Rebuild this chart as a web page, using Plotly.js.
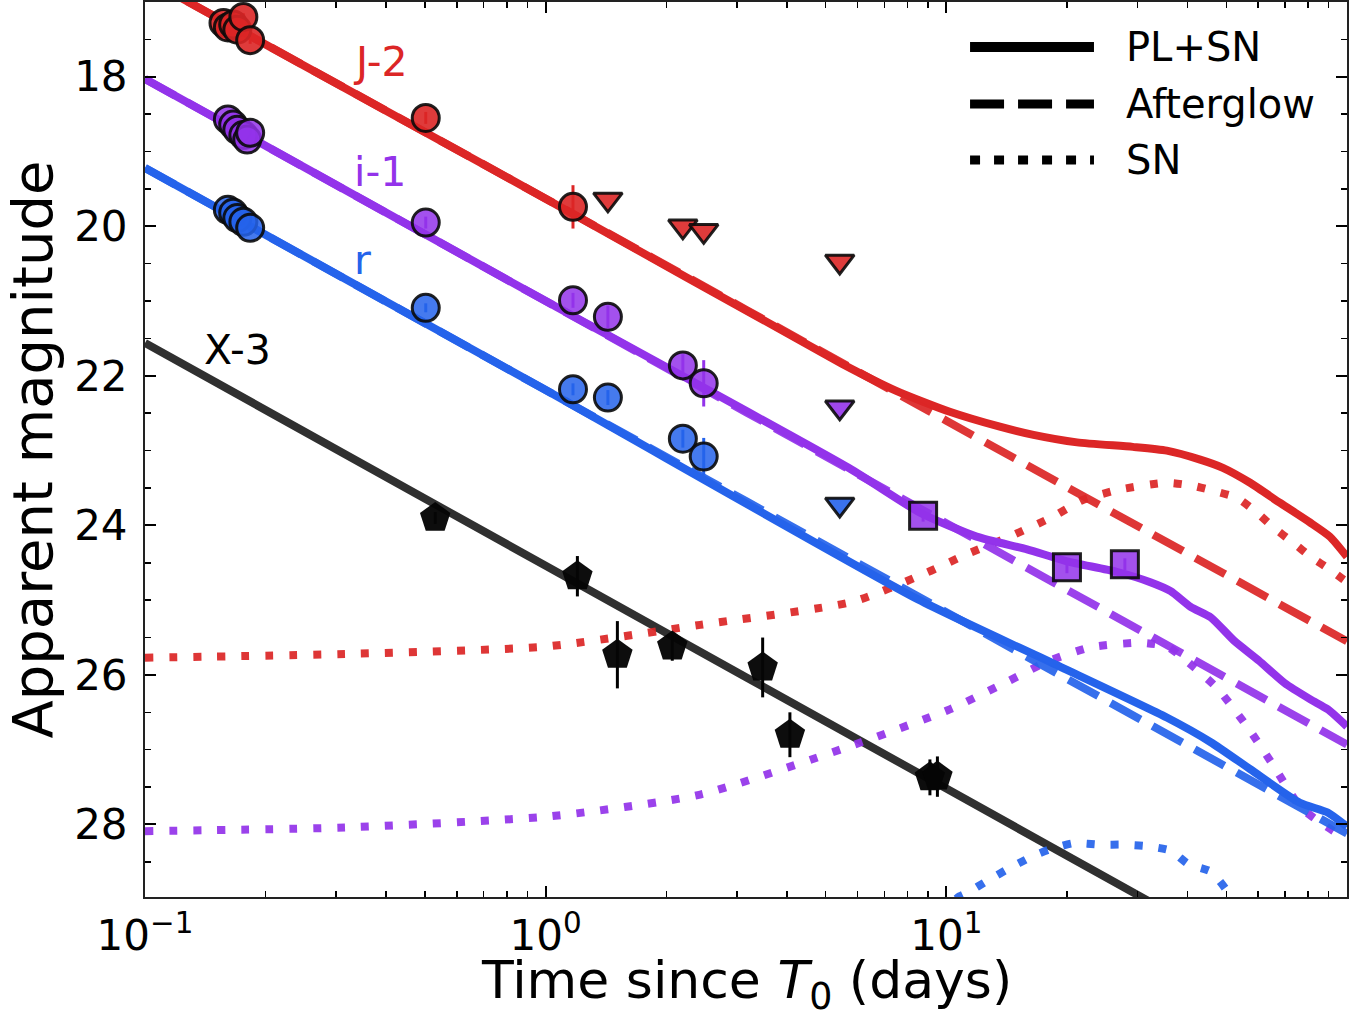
<!DOCTYPE html>
<html>
<head>
<meta charset="utf-8">
<script src="https://cdn.plot.ly/plotly-3.0.1.min.js"></script>
<style>html,body{margin:0;padding:0;background:#fff;}#chart{width:1367px;height:1020px;}</style>
</head>
<body>
<div id="chart"></div>
<script>
// ---------- model curves ----------
const redSolidT = [0.1, 1, 5.5, 7.5, 10.2, 13.6, 16.5, 21.2, 29.2, 35.5, 43.0, 49.0, 57.3, 68.1, 80.8, 90.6, 100];
const redSolidM = [16.68, 19.63, 21.84, 22.2, 22.48, 22.68, 22.79, 22.89, 22.95, 23.0, 23.12, 23.23, 23.43, 23.70, 23.96, 24.15, 24.42];
const redAgT = [0.1, 1, 10, 100];
const redAgM = [16.68, 19.63, 22.6, 25.55];
const redSnT = [0.1, 0.316, 1.0, 2.43, 5.85, 8.95, 11.2, 14.4, 18.5, 21.9, 27.1, 35.5, 41.2, 47.3, 53.1, 59.6, 65.3, 73.3, 81.7, 90.6, 100];
const redSnM = [25.77, 25.72, 25.62, 25.33, 25.02, 24.63, 24.39, 24.15, 23.88, 23.66, 23.52, 23.43, 23.47, 23.55, 23.63, 23.83, 24.02, 24.23, 24.43, 24.59, 24.76];

const purSolidT = [0.1, 1, 5.7, 8.6, 11.9, 15.9, 20.0, 26.6, 32.3, 36.3, 40.7, 45.7, 52.2, 60.3, 69.9, 81.2, 89.5, 100];
const purSolidM = [18.03, 21.0, 23.23, 23.83, 24.15, 24.32, 24.48, 24.62, 24.76, 24.88, 25.09, 25.23, 25.54, 25.81, 26.11, 26.33, 26.46, 26.69];
const purAgT = [0.1, 1, 10, 100];
const purAgM = [18.03, 21.0, 23.97, 26.93];
const purSnT = [0.1, 0.316, 1.03, 2.43, 5.7, 10.2, 14.2, 17.9, 22.9, 30.6, 35.5, 38.9, 47.3, 56.3, 65.3, 76.3, 85.6, 100];
const purSnM = [28.09, 28.04, 27.89, 27.6, 26.96, 26.46, 26.09, 25.82, 25.63, 25.57, 25.62, 25.77, 26.17, 26.69, 27.2, 27.76, 27.97, 28.2];

const bluSolidT = [0.1, 1, 8.5, 18.2, 35.5, 45.7, 57.3, 76.3, 89.5, 100];
const bluSolidM = [19.22, 22.19, 24.99, 25.83, 26.57, 26.9, 27.26, 27.71, 27.84, 28.03];
const bluAgT = [0.1, 1, 10, 100];
const bluAgM = [19.22, 22.19, 25.16, 28.12];
const bluSnT = [9.5, 10.8, 11.3, 12.6, 14.2, 16.2, 18.2, 20.8, 24.3, 27.7, 31.6, 36.3, 40.2, 45.7, 49.9, 55];
const bluSnM = [29.2, 28.96, 28.91, 28.76, 28.6, 28.44, 28.33, 28.25, 28.27, 28.27, 28.29, 28.35, 28.53, 28.63, 28.87, 29.3];

const xrayT = [0.1, 1, 10, 100];
const xrayM = [21.56, 24.54, 27.52, 30.5];

// ---------- observations ----------
const redDetT = [0.157, 0.161, 0.166, 0.170, 0.176, 0.183, 0.502, 1.17];
const redDetM = [17.28, 17.34, 17.30, 17.37, 17.20, 17.51, 18.55, 19.74];
const redDetE = [0.05, 0.05, 0.05, 0.05, 0.05, 0.05, 0.08, 0.29];
const redLimT = [1.43, 2.2, 2.48, 5.42];
const redLimM = [19.64, 20.0, 20.06, 20.47];

const purDetT = [0.161, 0.166, 0.170, 0.176, 0.180, 0.183, 0.502, 1.17, 1.43, 2.2, 2.48];
const purDetM = [18.57, 18.64, 18.71, 18.78, 18.84, 18.75, 19.95, 20.99, 21.21, 21.86, 22.1];
const purDetE = [0.05, 0.05, 0.05, 0.05, 0.05, 0.05, 0.08, 0.1, 0.15, 0.15, 0.31];
const purLimT = [5.42];
const purLimM = [22.42];
const purSqT = [8.75, 20.0, 27.9];
const purSqM = [23.87, 24.56, 24.52];
const purSqE = [0.08, 0.08, 0.08];

const bluDetT = [0.161, 0.166, 0.170, 0.176, 0.183, 0.502, 1.17, 1.43, 2.2, 2.48];
const bluDetM = [19.78, 19.82, 19.89, 19.94, 20.02, 21.09, 22.18, 22.29, 22.84, 23.08];
const bluDetE = [0.05, 0.05, 0.05, 0.05, 0.05, 0.06, 0.08, 0.1, 0.12, 0.25];
const bluLimT = [5.42];
const bluLimM = [23.72];

const xDetT = [0.53, 1.2, 1.51, 2.07, 3.48, 4.07, 9.1, 9.5];
const xDetM = [23.9, 24.68, 25.73, 25.62, 25.9, 26.8, 27.37, 27.36];
const xDetE = [0.08, 0.27, 0.45, 0.19, 0.4, 0.3, 0.24, 0.27];

// ---------- labels ----------
const xTickVals = [0.1, 1, 10];
const xTickText = ['10<sup>−1</sup>', '10<sup>0</sup>', '10<sup>1</sup>'];
const xMinorVals = [0.2,0.3,0.4,0.5,0.6,0.7,0.8,0.9,2,3,4,5,6,7,8,9,20,30,40,50,60,70,80,90];
const xTitle = 'Time since <i>T</i><sub>0</sub> (days)';
const yTitle = 'Apparent magnitude';
const legendNames = ['PL+SN', 'Afterglow', 'SN'];
const curveLabels = ['J-2', 'i-1', 'r', 'X-3'];

// ---------- styles ----------
const RED = '#dc2626', PUR = '#9333ea', BLU = '#2563eb';
const LW = 8;
const DASH = '34px,14px';
const DOT = '8px,16px';

function line(x, y, color, dash, op) {
  return {x: x, y: y, type: 'scatter', mode: 'lines', hoverinfo: 'skip', showlegend: false,
    opacity: op === undefined ? 1 : op,
    line: {color: color, width: LW, dash: dash || 'solid', shape: 'spline', smoothing: 0.6}};
}
function pts(x, y, e, color, symbol, size, ecolor) {
  const tr = {x: x, y: y, type: 'scatter', mode: 'markers', showlegend: false, cliponaxis: false,
    marker: {symbol: symbol, size: size, color: color, line: {color: 'rgba(10,10,10,0.9)', width: 3}}};
  if (e) tr.error_y = {type: 'data', array: e, visible: true, color: ecolor, thickness: 3, width: 0};
  return tr;
}

const traces = [
  line(xrayT, xrayM, 'rgba(30,30,30,0.92)'),
  line(redSolidT, redSolidM, RED),
  line(redAgT, redAgM, RED, DASH, 0.92),
  line(redSnT, redSnM, RED, DOT, 0.92),
  line(purSolidT, purSolidM, PUR),
  line(purAgT, purAgM, PUR, DASH, 0.92),
  line(purSnT, purSnM, PUR, DOT, 0.92),
  line(bluSolidT, bluSolidM, BLU),
  line(bluAgT, bluAgM, BLU, DASH, 0.92),
  line(bluSnT, bluSnM, BLU, DOT, 0.92),
  pts(redDetT, redDetM, redDetE, 'rgba(220,38,38,0.9)', 'circle', 27, RED),
  pts(redLimT, redLimM, null, 'rgba(220,38,38,0.9)', 'triangle-down', 25),
  pts(purDetT, purDetM, purDetE, 'rgba(147,51,234,0.85)', 'circle', 27, PUR),
  pts(purLimT, purLimM, null, 'rgba(147,51,234,0.9)', 'triangle-down', 25),
  pts(purSqT, purSqM, purSqE, 'rgba(147,51,234,0.85)', 'square', 27, PUR),
  pts(bluDetT, bluDetM, bluDetE, 'rgba(37,99,235,0.85)', 'circle', 27, BLU),
  pts(bluLimT, bluLimM, null, 'rgba(37,99,235,0.9)', 'triangle-down', 25),
  {x: xDetT, y: xDetM, type: 'scatter', mode: 'markers', showlegend: false,
   marker: {symbol: 'pentagon', size: 32, color: 'rgba(5,5,5,0.97)', line: {width: 0}},
   error_y: {type: 'data', array: xDetE, visible: true, color: '#000', thickness: 3, width: 0}}
];

// legend drawn with shapes + annotations (paper coords)
const legX0 = 0.6864, legX1 = 0.7895, legTx = 0.8145;
const legY = [0.9497, 0.886, 0.8235];
const legDash = ['solid', DASH, '10px,14px'];
const shapes = legY.map((yy, i) => ({type: 'line', xref: 'paper', yref: 'paper',
  x0: legX0, x1: legX1, y0: yy, y1: yy, line: {color: '#000', width: i === 0 ? 10 : 9, dash: legDash[i]}}));
const annotations = legY.map((yy, i) => ({xref: 'paper', yref: 'paper', x: legTx, y: yy,
  xanchor: 'left', yanchor: 'middle', showarrow: false, text: legendNames[i],
  font: {family: 'DejaVu Sans', size: 40, color: '#000'}}));

const labelPos = [
  {x: -0.413, y: 17.8, c: RED},
  {x: -0.413, y: 19.27, c: PUR},
  {x: -0.458, y: 20.45, c: BLU},
  {x: -0.768, y: 21.65, c: '#000'}
];
curveLabels.forEach((t, i) => annotations.push({xref: 'x', yref: 'y', x: labelPos[i].x, y: labelPos[i].y,
  xanchor: 'center', yanchor: 'middle', showarrow: false, text: t,
  font: {family: 'DejaVu Sans', size: 41, color: labelPos[i].c}}));

// x-axis title placed as paper annotation below the tick labels
annotations.push({xref: 'paper', yref: 'paper', x: 0.5, y: -0.0972, xanchor: 'center', yanchor: 'middle',
  showarrow: false, text: xTitle, font: {family: 'DejaVu Sans', size: 52, color: '#000'}});

const layout = {
  width: 1367, height: 1020,
  margin: {l: 145, r: 20, t: 2, b: 123, pad: 0},
  paper_bgcolor: '#fff', plot_bgcolor: '#fff',
  showlegend: false,
  font: {family: 'DejaVu Sans', size: 40, color: '#000'},
  xaxis: {
    type: 'log', range: [-1, 2.0], autorange: false,
    tickmode: 'array', tickvals: xTickVals, ticktext: xTickText,
    ticks: 'inside', ticklen: 11, tickwidth: 2, tickcolor: '#000',
    showline: true, linecolor: '#222', linewidth: 2, mirror: 'ticks',
    showgrid: false, zeroline: false,
    tickfont: {family: 'DejaVu Sans', size: 42},
    ticklabelstandoff: 1,
    minor: {tickmode: 'array', tickvals: xMinorVals, ticks: 'inside', ticklen: 6, tickwidth: 1.5, tickcolor: '#000', showgrid: false},
    automargin: false
  },
  yaxis: {
    range: [28.97, 17.0], autorange: false,
    tickmode: 'array', tickvals: [18, 20, 22, 24, 26, 28],
    ticks: 'inside', ticklen: 11, tickwidth: 2, tickcolor: '#000',
    showline: true, linecolor: '#222', linewidth: 2, mirror: 'ticks',
    showgrid: false, zeroline: false,
    tickfont: {family: 'DejaVu Sans', size: 42},
    ticklabelstandoff: 7,
    minor: {dtick: 0.5, ticks: 'inside', ticklen: 6, tickwidth: 1.5, tickcolor: '#000', showgrid: false},
    title: {text: yTitle, font: {family: 'DejaVu Sans', size: 56}, standoff: 8},
    automargin: false
  },
  shapes: shapes,
  annotations: annotations
};

Plotly.newPlot('chart', traces, layout, {displayModeBar: false, staticPlot: true});
</script>
</body>
</html>
